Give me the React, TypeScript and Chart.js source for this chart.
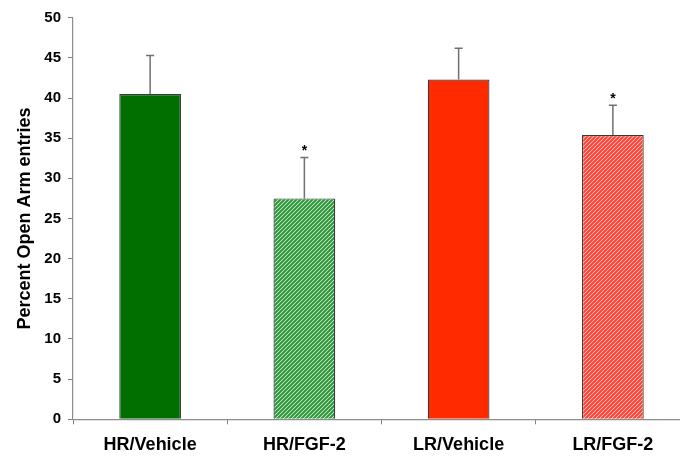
import React, { useEffect, useRef } from "react";
import { Chart, registerables } from "chart.js";

Chart.register(...registerables);

const categories = ["HR/Vehicle", "HR/FGF-2", "LR/Vehicle", "LR/FGF-2"];
const means = [40.5, 27.5, 42.3, 35.4];
const errors = [4.8, 5.1, 3.9, 3.7];
const significance = ["", "*", "", "*"];
const yMin = 0;
const yMax = 50;
const yStep = 5;
const yTitle = "Percent Open Arm entries";

const FONT = "'Liberation Sans', Arial, sans-serif";

function hatch(fg: string, bg: string): CanvasPattern | string {
  const c = document.createElement("canvas");
  c.width = 4;
  c.height = 4;
  const g = c.getContext("2d");
  if (!g) return fg;
  g.fillStyle = bg;
  g.fillRect(0, 0, 4, 4);
  g.strokeStyle = fg;
  g.lineWidth = 2;
  g.beginPath();
  g.moveTo(0, 4);
  g.lineTo(4, 0);
  g.moveTo(-1, 1);
  g.lineTo(1, -1);
  g.moveTo(3, 5);
  g.lineTo(5, 3);
  g.stroke();
  return g.createPattern(c, "repeat") || fg;
}

const errorBarPlugin = {
  id: "errorBars",
  afterDatasetsDraw(chart: any) {
    const { ctx } = chart;
    const meta = chart.getDatasetMeta(0);
    const yScale = chart.scales.y;
    ctx.save();
    meta.data.forEach((el: any, i: number) => {
      const x = el.x;
      const yTop = yScale.getPixelForValue(means[i] + errors[i]);
      const yBar = el.y;
      ctx.strokeStyle = "#707070";
      ctx.lineWidth = 1.5;
      ctx.beginPath();
      ctx.moveTo(x, yBar);
      ctx.lineTo(x, yTop);
      ctx.moveTo(x - 4, yTop);
      ctx.lineTo(x + 4, yTop);
      ctx.stroke();
      if (significance[i]) {
        ctx.fillStyle = "#000";
        ctx.font = `bold 14px ${FONT}`;
        ctx.textAlign = "center";
        ctx.textBaseline = "alphabetic";
        ctx.fillText(significance[i], x, yTop - 2);
      }
    });
    ctx.restore();
  },
};

export default function App() {
  const ref = useRef<HTMLCanvasElement>(null);
  useEffect(() => {
    if (!ref.current) return;
    const bg = [
      "#006f00",
      hatch("#2a9636", "#e4f4e4"),
      "#ff2a00",
      hatch("#ff4034", "#ffd2cc"),
    ];
    const chart = new Chart(ref.current, {
      type: "bar",
      data: {
        labels: categories,
        datasets: [
          {
            data: means,
            backgroundColor: bg as any,
            borderColor: "#3a3a3a",
            borderWidth: 1.2,
            barPercentage: 0.4,
            categoryPercentage: 1,
          },
        ],
      },
      options: {
        responsive: false,
        animation: false,
        devicePixelRatio: 1,
        layout: { padding: { top: 17.7, right: 10, left: 0, bottom: 0 } },
        plugins: {
          legend: { display: false },
          tooltip: { enabled: false },
        },
        scales: {
          x: {
            grid: {
              offset: true,
              drawOnChartArea: false,
              drawTicks: true,
              tickLength: 5,
              tickColor: "#808080",
            },
            border: { color: "#8c8c8c", width: 1.2 },
            ticks: {
              color: "#000",
              padding: 10,
              font: { family: FONT, size: 18, weight: "bold" },
              maxRotation: 0,
            },
            afterFit: (s: any) => {
              s.height = 40.7;
            },
          },
          y: {
            min: yMin,
            max: yMax,
            grid: {
              drawOnChartArea: false,
              drawTicks: true,
              tickLength: 5,
              tickColor: "#808080",
            },
            border: { color: "#8c8c8c", width: 1.2 },
            ticks: {
              stepSize: yStep,
              color: "#000",
              padding: 7,
              font: { family: FONT, size: 15, weight: "bold" },
            },
            title: {
              display: true,
              text: yTitle,
              color: "#000",
              padding: { top: 14, bottom: 0 },
              font: { family: FONT, size: 18, weight: "bold" },
            },
            afterFit: (s: any) => {
              s.width = 73;
            },
          },
        },
      },
      plugins: [errorBarPlugin],
    });
    return () => chart.destroy();
  }, []);
  return (
    <div
      style={{
        position: "absolute",
        left: 0,
        top: 0,
        width: 680,
        height: 460,
        overflow: "hidden",
        background: "#fff",
      }}
    >
      <canvas ref={ref} width={700} height={460} style={{ display: "block" }} />
    </div>
  );
}
